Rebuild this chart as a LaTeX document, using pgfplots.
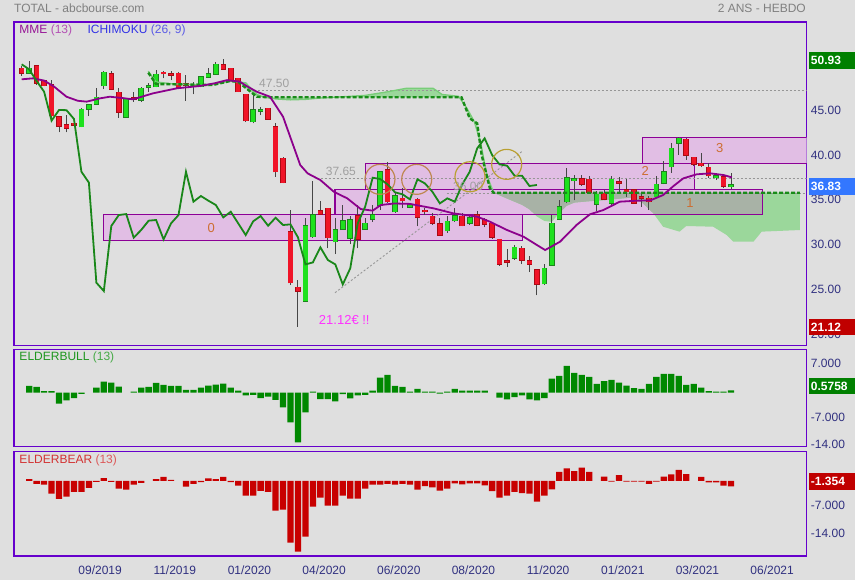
\documentclass[border=0pt]{standalone}
\usepackage{pgfplots}
\pgfplotsset{compat=1.18}
\usepackage{pgfplotstable}
\usepackage{fontspec}
\setmainfont{Liberation Sans}

\definecolor{bg}{RGB}{223,223,223}
\definecolor{frame}{RGB}{102,0,204}
\definecolor{navy}{RGB}{48,48,128}
\definecolor{boxfill}{RGB}{225,190,228}
\definecolor{boxedge}{RGB}{140,0,150}
\definecolor{upfill}{RGB}{30,225,30}
\definecolor{upedge}{RGB}{30,130,30}
\definecolor{dnfill}{RGB}{240,20,40}
\definecolor{dnedge}{RGB}{170,10,20}
\definecolor{wick}{RGB}{70,70,70}
\definecolor{mme}{RGB}{140,0,140}
\definecolor{chikou}{RGB}{25,135,25}
\definecolor{kumo}{RGB}{155,215,155}
\definecolor{kumogray}{RGB}{168,178,166}
\definecolor{spanlight}{RGB}{120,205,120}
\definecolor{spandark}{RGB}{25,140,25}
\definecolor{dotgray}{RGB}{150,150,150}
\definecolor{lblgray}{RGB}{160,160,160}
\definecolor{lblorange}{RGB}{205,110,50}
\definecolor{circbrown}{RGB}{190,135,80}
\definecolor{circolive}{RGB}{185,160,50}
\definecolor{bullg}{RGB}{0,136,0}
\definecolor{bearr}{RGB}{200,0,0}
\definecolor{boxgreen}{RGB}{0,128,0}
\definecolor{boxblue}{RGB}{51,119,255}
\definecolor{boxred}{RGB}{192,0,0}
\definecolor{magtxt}{RGB}{255,51,255}
\definecolor{titlegray}{RGB}{128,128,128}
\definecolor{mmeA}{RGB}{150,20,150}
\definecolor{mmeB}{RGB}{180,80,180}
\definecolor{ichA}{RGB}{50,50,230}
\definecolor{ichB}{RGB}{90,90,230}
\definecolor{bullA}{RGB}{30,150,30}
\definecolor{bullB}{RGB}{70,170,70}
\definecolor{bearA}{RGB}{210,50,50}
\definecolor{bearB}{RGB}{220,90,90}

\pgfplotstableread{
i O H L C
1 49.36 50.73 49.30 49.91
8 43.41 45.45 43.35 45.34
9 45.38 45.90 44.60 45.83
10 45.90 47.68 45.80 46.68
11 47.98 49.62 47.61 49.47
14 44.45 46.50 44.40 46.46
16 46.38 47.87 46.20 47.68
17 47.80 48.24 47.31 47.90
18 47.87 49.73 47.80 49.24
24 47.87 49.10 47.80 48.98
25 48.91 49.91 48.85 49.28
26 49.24 50.58 49.20 50.36
31 43.97 46.94 43.78 45.27
32 45.15 45.64 44.71 45.25
38 23.98 33.20 23.90 32.34
39 31.15 37.35 31.04 33.56
42 30.59 33.19 29.21 31.89
43 31.96 34.68 31.90 32.93
44 30.96 33.45 30.29 33.01
46 31.96 33.19 31.90 32.63
47 33.08 34.68 32.82 33.56
48 34.68 38.50 34.12 38.39
50 33.93 36.00 33.80 35.68
52 34.42 34.80 34.30 34.68
57 31.82 33.45 31.60 32.86
58 32.93 34.31 32.80 33.45
60 32.63 33.50 32.50 33.26
66 28.73 30.20 28.60 29.96
70 25.89 28.10 25.80 27.62
71 28.00 33.60 27.90 32.63
72 33.12 35.20 33.00 34.49
73 35.05 38.80 34.90 37.72
74 37.39 38.00 35.20 37.58
77 34.75 36.20 34.00 35.87
79 34.86 37.90 34.70 37.54
85 35.61 37.90 35.50 36.98
86 37.09 39.60 37.00 38.39
87 38.95 41.60 38.30 40.99
88 41.55 42.30 40.30 42.11
93 37.72 38.30 37.50 37.95
95 36.73 38.30 36.50 36.91
}\upc

\pgfplotstableread{
i O H L C
0 49.91 50.20 49.10 49.36
2 50.17 50.30 48.06 48.24
3 48.50 48.60 47.90 47.98
4 48.06 48.61 44.34 44.64
5 44.53 44.60 42.78 43.48
6 43.60 44.71 42.78 43.22
7 43.78 43.85 43.55 43.60
12 49.28 49.62 47.50 47.57
13 47.24 47.68 44.41 45.01
15 46.60 47.24 46.20 46.50
19 49.40 49.65 48.80 49.30
20 49.17 49.65 48.61 49.15
21 49.36 49.50 47.70 47.80
22 48.06 49.17 46.31 48.04
23 48.00 48.43 47.01 47.98
27 50.29 50.95 49.75 49.80
28 49.91 50.00 48.45 48.50
29 48.80 48.87 47.25 47.31
30 47.01 47.10 43.97 44.08
33 45.45 45.50 44.20 44.27
34 43.41 43.78 37.84 38.39
35 39.88 40.00 37.10 37.17
36 31.70 34.12 25.76 26.02
37 25.50 26.32 21.12 25.09
40 34.01 35.16 33.60 33.67
41 34.30 34.40 29.85 31.04
45 33.49 34.68 29.85 30.85
49 38.58 39.43 34.90 35.05
51 35.42 36.54 34.31 35.16
53 35.31 35.50 32.30 33.30
54 33.95 34.31 33.56 33.93
55 33.41 33.80 32.50 32.63
56 32.56 33.20 31.20 31.33
59 33.41 33.80 32.30 32.37
61 33.56 34.00 32.30 32.45
62 33.00 33.20 32.20 32.52
63 32.63 32.80 30.90 31.07
64 30.85 30.90 27.90 28.06
65 28.30 29.74 27.80 28.28
67 29.85 30.10 28.10 28.55
68 28.43 28.95 27.20 28.06
69 27.43 27.60 24.60 25.83
75 37.61 38.00 36.80 36.98
76 37.54 37.90 36.00 36.09
78 35.98 36.30 35.20 35.31
80 37.24 37.80 36.00 37.09
81 36.35 37.60 35.60 36.16
82 36.35 36.50 34.80 34.86
83 35.45 36.16 34.50 35.42
84 35.42 35.70 34.10 35.05
89 42.00 42.20 39.70 40.25
90 39.99 40.00 39.00 39.21
91 39.32 40.50 38.90 39.06
92 38.88 39.40 37.70 37.95
94 37.84 38.10 36.60 36.80
}\dnc

\pgfplotsset{
  panel/.style={
    at={(14pt,#1)}, anchor=south west,
    scale only axis, width=792.7pt,
    xmin=-1.031, xmax=105.13,
    axis line style={draw=frame, line width=1.3pt},
    xtick=\empty,
    yticklabel pos=right,
    major tick length=0pt,
    tick style={draw=none},
    yticklabel style={anchor=west, inner sep=0pt, xshift=4pt, yshift=2.4pt,
      text=navy, font=\fontsize{12}{14}\selectfont},
  },
}

\begin{document}
\begin{tikzpicture}
\fill[bg] (0pt,0pt) rectangle (855pt,580pt);

% ---------------- main price panel ----------------
\begin{axis}[panel=234.5pt, height=323.5pt,
  ymin=19.02, ymax=55.08,
  ytick={20,25,30,35,40,45},
  yticklabels={20.00,25.00,30.00,35.00,40.00,45.00}]

% pink zones
\addplot[fill=boxfill, draw=boxedge, line width=1.3pt] coordinates {(10.93,30.70) (67.04,30.70) (67.04,33.64) (10.93,33.64)} -- cycle;
\addplot[fill=boxfill, draw=boxedge, line width=1.3pt] coordinates {(41.96,33.64) (99.2,33.64) (99.2,36.43) (41.96,36.43)} -- cycle;
\addplot[fill=boxfill, draw=boxedge, line width=1.3pt] coordinates {(46.07,36.43) (90.07,36.43) (90.07,39.33) (46.07,39.33)} -- cycle;
\addplot[fill=boxfill, draw=boxedge, line width=1.3pt] coordinates {(83.1,39.33) (106,39.33) (106,42.23) (83.1,42.23)} -- cycle;

% ichimoku cloud: span B forward, then span A backward
\addplot[fill=kumo, draw=none] coordinates {
(16.95,49.43) (18,48.17) (25.6,48.06) (27.9,48.5) (29,48.4) (31.5,46.75) (33,46.69) (58.9,46.69) (60.0,44.34) (61.0,43.78) (61.6,40.25) (62.7,36.54) (63.2,36.05) (104.2,36.05)
(104.2,31.89) (99.1,31.71) (98,30.59) (95.3,30.59) (94.4,31.34) (92.6,32.26) (89,32.34) (88.1,31.71) (85.9,32.26) (84.6,33.75) (83.2,34.87) (81.9,35.53) (78.3,35.24) (76,35.1) (74,34.95) (73,34.6) (72,33.8) (71,32.8) (70,32.9) (69,33.4) (68,34.2) (67,34.7) (65,35.4) (63.2,36.05) (62.3,38.0) (61.5,41.5) (60.6,44.0) (59.6,45.5) (58.5,46.8) (56.3,47.0) (55.1,47.69) (51.5,47.69) (49,47.3) (46,46.9) (40,46.6) (38,46.45) (36,46.4) (34,46.5) (32.5,46.7) (31.5,47.0) (30,48.3) (28,48.5) (25,48.0) (20,48.2) (18,48.4) (16.95,49.6)} -- cycle;
% part of the cloud lying over zone 1
\addplot[fill=kumogray, draw=none] coordinates {(63.2,36.05) (99.2,36.05) (99.2,33.64) (84.7,33.64) (84.6,33.75) (83.2,34.87) (81.9,35.53) (78.3,35.24) (76,35.1) (74,34.95) (73,34.6) (72,33.8) (71.84,33.64) (68.7,33.64) (68,34.2) (67,34.7) (65,35.4)} -- cycle;
% zone borders over the cloud
\addplot[draw=boxedge, line width=1.3pt] coordinates {(41.96,33.64) (99.2,33.64) (99.2,36.43) (41.96,36.43)} -- cycle;
\addplot[draw=boxedge, line width=1.3pt] coordinates {(46.07,36.43) (90.07,36.43) (90.07,39.33) (46.07,39.33)} -- cycle;

% dotted levels and diagonal
\addplot[dotgray, line width=0.9pt, dash pattern=on 2pt off 2pt] coordinates {(31.1,47.5) (105.13,47.5)};
\addplot[dotgray, line width=0.9pt, dash pattern=on 2pt off 2pt] coordinates {(40.04,37.65) (105.13,37.65)};
\addplot[dotgray, line width=0.9pt, dash pattern=on 2pt off 2pt] coordinates {(56.9,36.0) (105.13,36.0)};
\addplot[dotgray, line width=0.9pt, dash pattern=on 2pt off 2pt] coordinates {(41.96,24.90) (66.96,40.62)};

% wicks
\addplot[draw=none, mark=none, error bars/.cd, y dir=plus, y explicit, error mark=none,
  error bar style={draw=wick, line width=1pt}]
  table[x=i, y=L, y error expr=\thisrow{H}-\thisrow{L}] {\upc};
\addplot[draw=none, mark=none, error bars/.cd, y dir=plus, y explicit, error mark=none,
  error bar style={draw=wick, line width=1pt}]
  table[x=i, y=L, y error expr=\thisrow{H}-\thisrow{L}] {\dnc};
% bodies
\addplot[draw=none, mark=none, error bars/.cd, y dir=plus, y explicit, error mark=none,
  error bar style={draw=upedge, line width=5.6pt, shorten <=-0.6pt, shorten >=-0.6pt}]
  table[x=i, y=O, y error expr={max(\thisrow{C}-\thisrow{O},0.15)}] {\upc};
\addplot[draw=none, mark=none, error bars/.cd, y dir=plus, y explicit, error mark=none,
  error bar style={draw=upfill, line width=4.2pt}]
  table[x=i, y=O, y error expr={max(\thisrow{C}-\thisrow{O},0.15)}] {\upc};
\addplot[draw=none, mark=none, error bars/.cd, y dir=plus, y explicit, error mark=none,
  error bar style={draw=dnedge, line width=5.6pt, shorten <=-0.6pt, shorten >=-0.6pt}]
  table[x=i, y=C, y error expr={max(\thisrow{O}-\thisrow{C},0.15)}] {\dnc};
\addplot[draw=none, mark=none, error bars/.cd, y dir=plus, y explicit, error mark=none,
  error bar style={draw=dnfill, line width=4.2pt}]
  table[x=i, y=C, y error expr={max(\thisrow{O}-\thisrow{C},0.15)}] {\dnc};

% span lines
\addplot[spanlight, line width=1.3pt] coordinates {(16.95,49.6) (18,48.4) (20,48.2) (25,48.0) (28,48.5) (30,48.3) (31.5,47.0) (32.5,46.7) (34,46.5) (36,46.4) (38,46.45) (40,46.6) (46,46.9) (49,47.3) (51.5,47.69) (55.1,47.69) (56.3,47.0) (58.5,46.8) (59.6,45.5) (60.6,44.0) (61.5,41.5) (62.3,38.0) (63.2,36.05)};
\addplot[spandark, line width=2.4pt, dash pattern=on 4pt off 2pt] coordinates {(16.95,49.43) (18,48.17) (25.6,48.06) (27.9,48.5) (29,48.4) (31.5,46.75) (33,46.69) (58.9,46.69) (60.0,44.34) (61.0,43.78) (61.6,40.25) (62.7,36.54) (63.2,36.05) (104.2,36.05)};

% MME 13
\addplot[mme, line width=1.8pt] coordinates {(0,48.69) (1.5,48.8) (3,48.55) (4.3,47.9) (6,46.75) (7.5,46.3) (8.7,46.2) (10.5,46.57) (11.8,46.75) (13.5,46.6) (14.9,46.46) (17.6,47.13) (20.8,47.69) (23.9,47.95) (25.8,48.24) (27.5,48.6) (29.2,48.43) (30.2,47.9) (31.5,47.3) (33.25,46.75) (35,44.52) (37.3,39.14) (38.3,38.2) (40,37.46) (41.8,36.16) (43.6,35.42) (45.4,34.23) (47,34.05) (48.1,34.68) (49.9,34.85) (52,34.8) (55.2,34.3) (57.8,33.75) (61,33.38) (62.7,32.82) (65,31.89) (67.2,31.15) (69,30.22) (70.1,29.66) (72.1,30.59) (74.3,32.45) (76.1,33.64) (77.9,34.12) (80.1,35.05) (82.4,35.16) (84.2,35.2) (85.9,35.79) (87.3,36.8) (88.6,37.65) (90.4,38.10) (92.2,38.21) (94,38.02) (95.1,37.76)};

% Chikou (lagging close)
\addplot[chikou, line width=1.8pt] coordinates {(0,50.36) (1,49.80) (2,48.50) (3,47.31) (4,44.08) (5,45.27) (6,45.25) (7,44.27) (8,38.39) (9,37.17) (10,26.02) (11,25.09) (12,32.34) (13,33.56) (14,33.67) (15,31.04) (16,31.89) (17,32.93) (18,33.01) (19,30.85) (20,32.63) (21,33.56) (22,38.39) (23,35.05) (24,35.68) (25,35.16) (26,34.68) (27,33.30) (28,33.93) (29,32.63) (30,31.33) (31,32.86) (32,33.45) (33,32.37) (34,33.26) (35,32.45) (36,32.52) (37,31.07) (38,28.06) (39,28.28) (40,29.96) (41,28.55) (42,28.06) (43,25.83) (44,27.62) (45,32.63) (46,34.49) (47,37.72) (48,37.58) (49,36.98) (50,36.09) (51,35.87) (52,35.31) (53,37.54) (54,37.09) (55,36.16) (56,34.86) (57,35.42) (58,35.05) (59,36.98) (60,38.39) (61,40.99) (62,42.11) (63,40.25) (64,39.21) (65,39.06) (66,37.95) (67,37.95) (68,36.80) (69,36.91)};

% circles
\addplot[only marks, mark=o, mark size=15pt, circbrown, mark options={line width=1.2pt}] coordinates {(47.98,37.54) (52.9,37.54)};
\addplot[only marks, mark=o, mark size=15pt, circolive, mark options={line width=1.2pt}] coordinates {(60.04,37.83) (64.95,39.21)};

% labels
\node[anchor=south west, inner sep=0pt, yshift=2.5pt, text=lblgray, font=\fontsize{12}{14}\selectfont] at (axis cs:31.78,47.5) {47.50};
\node[anchor=south west, inner sep=0pt, yshift=2.5pt, text=lblgray, font=\fontsize{12}{14}\selectfont] at (axis cs:40.71,37.65) {37.65};
\node[anchor=south west, inner sep=0pt, yshift=2.5pt, text=lblgray, font=\fontsize{12}{14}\selectfont] at (axis cs:57.76,36.0) {36.00};
\node[text=lblorange, font=\fontsize{13}{15}\selectfont] at (axis cs:25.4,32.12) {0};
\node[text=lblorange, font=\fontsize{13}{15}\selectfont] at (axis cs:89.5,34.86) {1};
\node[text=lblorange, font=\fontsize{13}{15}\selectfont] at (axis cs:83.5,38.46) {2};
\node[text=lblorange, font=\fontsize{13}{15}\selectfont] at (axis cs:93.5,41.03) {3};
\node[text=magtxt, font=\fontsize{13}{15}\selectfont] at (axis cs:43.2,21.91) {21.12€ !!};
\end{axis}

% ---------------- Elder bull ----------------
\begin{axis}[panel=133.3pt, height=97.4pt,
  ymin=-14.0, ymax=11.17,
  ytick={-14,-7,7},
  yticklabels={-14.00,-7.000,7.000}]
\addplot[ybar, bar width=6.3pt, bar shift=0pt, fill=bullg, draw=none] coordinates {
(1,1.7) (2,1.46) (3,0.34) (4,0.34) (5,-2.9) (6,-2.06) (7,-1.46) (8,-0.34) (10,1.29) (11,2.83) (12,2.57) (13,1.54) (15,0.26) (16,1.29) (17,1.46) (18,2.49) (19,1.97) (20,1.72) (21,1.72) (22,0.69) (23,0.69) (24,1.29) (25,1.8) (26,2.06) (27,2.32) (28,1.29) (29,0.51) (30,-0.77) (31,-0.6) (32,-1.46) (33,-1.03) (34,-1.89) (35,-3.86) (36,-7.72) (37,-12.86) (38,-5.15) (39,0.26) (40,-1.72) (41,-1.72) (42,-2.32) (43,-0.43) (44,-1.54) (45,-0.77) (46,-0.6) (47,0.51) (48,3.86) (49,4.55) (50,1.72) (51,1.46) (52,0.26) (53,0.94) (54,0.26) (55,0.2) (56,-0.3) (57,0.2) (58,0.94) (59,0.51) (60,0.51) (61,0.51) (62,0.51) (64,-1.29) (65,-1.8) (66,-1.2) (67,-0.77) (68,-1.8) (69,-2.06) (70,-1.46) (71,3.6) (72,4.29) (73,6.86) (74,5.06) (75,4.55) (76,4.03) (77,2.23) (78,2.92) (79,3.26) (80,2.57) (81,1.8) (82,1.11) (83,0.94) (84,2.23) (85,4.03) (86,4.8) (87,4.8) (88,4.29) (89,1.97) (90,2.23) (91,1.29) (92,0.34) (93,0.26) (94,0.26) (95,0.58)};
\end{axis}

% ---------------- Elder bear ----------------
\begin{axis}[panel=24pt, height=104.3pt,
  ymin=-19.3, ymax=7.54,
  ytick={-14,-7},
  yticklabels={-14.00,-7.000},
  xtick={10.5,20.5,30.5,40.5,50.5,60.5,70.5,80.5,90.5,100.5},
  xticklabels={09/2019,11/2019,01/2020,04/2020,06/2020,08/2020,11/2020,01/2021,03/2021,06/2021},
  xticklabel style={anchor=north, inner sep=0pt, yshift=-9.5pt, text=navy, font=\fontsize{12}{14}\selectfont}]
\addplot[ybar, bar width=6.3pt, bar shift=0pt, fill=bearr, draw=none] coordinates {
(1,0.5) (2,-0.77) (3,-0.94) (4,-3.26) (5,-4.63) (6,-4.03) (7,-2.83) (8,-2.83) (9,-1.8) (10,-0.2) (11,0.77) (12,-0.2) (13,-1.97) (14,-2.23) (15,-0.94) (16,-0.5) (18,0.5) (19,1.03) (20,0.26) (22,-1.46) (23,-0.77) (24,-0.26) (25,0.69) (26,0.5) (27,1.03) (28,-0.26) (29,-1.2) (30,-3.77) (31,-3.77) (32,-2.57) (33,-2.83) (34,-7.63) (35,-7.38) (36,-15.87) (37,-18.18) (38,-14.32) (39,-6.6) (40,-4.29) (41,-6.35) (42,-6.35) (43,-3.77) (44,-4.55) (45,-4.55) (46,-1.97) (47,-0.94) (48,-0.94) (49,-0.77) (50,-0.94) (51,-0.77) (52,-0.94) (53,-2.23) (54,-1.3) (55,-1.63) (56,-2.49) (57,-1.97) (58,-0.6) (59,-0.86) (60,-0.6) (61,-0.6) (62,-1.11) (63,-2.6) (64,-4.29) (65,-3.77) (66,-2.83) (67,-3.09) (68,-3.26) (69,-5.32) (70,-3.77) (71,-2.14) (72,2.32) (73,3.26) (74,2.57) (75,3.43) (76,2.32) (78,1.11) (79,-0.15) (80,1.54) (81,-0.15) (82,-0.15) (83,-0.15) (84,-0.77) (85,-0.15) (86,1.11) (87,1.72) (88,2.83) (89,1.8) (91,1.03) (92,-0.34) (93,-0.34) (94,-1.2) (95,-1.354)};
\end{axis}

% ---------------- texts outside axes ----------------
\node[anchor=west, inner sep=0pt, text=titlegray, font=\fontsize{12}{14}\selectfont] at (14pt,571.7pt) {TOTAL - abcbourse.com};
\node[anchor=east, inner sep=0pt, text=titlegray, font=\fontsize{12}{14}\selectfont] at (806pt,571.7pt) {2 ANS - HEBDO};
\node[anchor=west, inner sep=0pt, font=\fontsize{12}{14}\selectfont] at (19.3pt,550pt) {\textcolor{mmeA}{MME} \textcolor{mmeB}{(13)}};
\node[anchor=west, inner sep=0pt, font=\fontsize{12}{14}\selectfont] at (87.3pt,550pt) {\textcolor{ichA}{ICHIMOKU} \textcolor{ichB}{(26, 9)}};
\node[anchor=west, inner sep=0pt, font=\fontsize{12}{14}\selectfont] at (19.3pt,222.2pt) {\textcolor{bullA}{ELDERBULL} \textcolor{bullB}{(13)}};
\node[anchor=west, inner sep=0pt, font=\fontsize{12}{14}\selectfont] at (19.3pt,120pt) {\textcolor{bearA}{ELDERBEAR} \textcolor{bearB}{(13)}};

% value boxes
\node[fill=boxgreen, text=white, font=\bfseries\fontsize{12}{14}\selectfont, anchor=west, minimum height=16.7pt, text width=42pt, inner xsep=2.4pt, inner ysep=0pt] at (808.3pt,519.3pt) {50.93};
\node[fill=boxblue, text=white, font=\bfseries\fontsize{12}{14}\selectfont, anchor=west, minimum height=16.7pt, text width=42pt, inner xsep=2.4pt, inner ysep=0pt] at (808.3pt,393.3pt) {36.83};
\node[fill=boxred, text=white, font=\bfseries\fontsize{12}{14}\selectfont, anchor=west, minimum height=16.7pt, text width=42pt, inner xsep=2.4pt, inner ysep=0pt] at (808.3pt,253pt) {21.12};
\node[fill=boxgreen, text=white, font=\bfseries\fontsize{12}{14}\selectfont, anchor=west, minimum height=16.7pt, text width=42pt, inner xsep=2.4pt, inner ysep=0pt] at (808.3pt,194pt) {0.5758};
\node[fill=boxred, text=white, font=\bfseries\fontsize{12}{14}\selectfont, anchor=west, minimum height=16.7pt, text width=42pt, inner xsep=2.4pt, inner ysep=0pt] at (808.3pt,98.5pt) {-1.354};

\pgfresetboundingbox
\path[use as bounding box] (0pt,0pt) rectangle (855pt,580pt);
\end{tikzpicture}
\end{document}
